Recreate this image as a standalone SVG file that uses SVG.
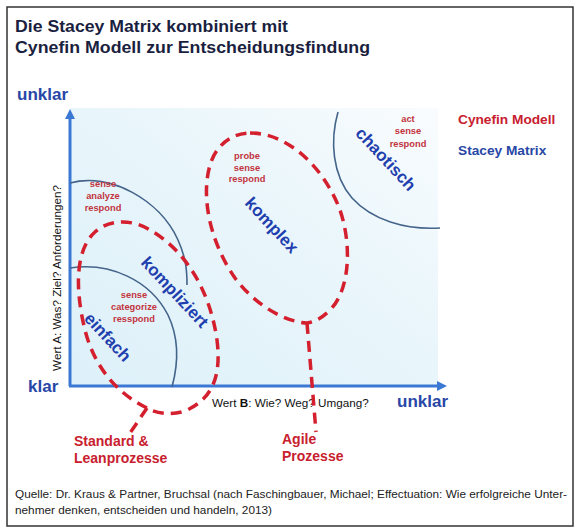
<svg xmlns="http://www.w3.org/2000/svg" width="580" height="532" viewBox="0 0 580 532">
  <defs>
    <linearGradient id="bg" x1="0" y1="1" x2="1" y2="0">
      <stop offset="0" stop-color="#ddf0f9"/>
      <stop offset="0.6" stop-color="#eaf6fb"/>
      <stop offset="1" stop-color="#f9fcfe"/>
    </linearGradient>
    <marker id="arr" markerWidth="10" markerHeight="10" refX="3" refY="5" orient="auto" markerUnits="userSpaceOnUse" viewBox="0 0 10 10">
      <path d="M0,0 L10,5 L0,10 Z" fill="#3a78d4"/>
    </marker>
    <style>
      .axis { stroke: #3a78d4; stroke-width: 3; fill: none; }
      .stacey { stroke: #44648a; stroke-width: 1.6; fill: none; }
      .cyn { stroke: #d41f2e; stroke-width: 3.5; fill: none; stroke-dasharray: 11 7; }
      .title { font-family: "Liberation Sans", Arial, sans-serif; font-weight: bold; font-size: 17px; fill: #1b1f3f; }
      .axlab { font-family: "Liberation Sans", Arial, sans-serif; font-weight: bold; font-size: 17px; fill: #2847a6; }
      .region { font-family: "Liberation Sans", Arial, sans-serif; font-weight: bold; font-size: 17px; fill: #1f3fae; text-anchor: middle; }
      .small { font-family: "Liberation Sans", Arial, sans-serif; font-weight: bold; font-size: 9.3px; fill: #c2343e; text-anchor: middle; }
      .redlab { font-family: "Liberation Sans", Arial, sans-serif; font-weight: bold; font-size: 14px; fill: #c8202e; }
      .legend { font-family: "Liberation Sans", Arial, sans-serif; font-weight: bold; font-size: 13.7px; }
      .axdesc { font-family: "Liberation Sans", Arial, sans-serif; font-size: 11.7px; fill: #111; }
      .foot { font-family: "Liberation Sans", Arial, sans-serif; font-size: 11.5px; fill: #222; }
    </style>
  </defs>

  <rect x="0" y="0" width="580" height="532" fill="#ffffff"/>
  <rect x="7" y="7" width="566" height="519" fill="#ffffff" stroke="#333" stroke-width="1.5"/>

  <g id="title">
    <text class="title" x="15" y="32" textLength="273" lengthAdjust="spacingAndGlyphs">Die Stacey Matrix kombiniert mit</text>
    <text class="title" x="15" y="53" textLength="355" lengthAdjust="spacingAndGlyphs">Cynefin Modell zur Entscheidungsfindung</text>
  </g>

  <rect id="plot-area" x="70" y="108" width="368" height="278" fill="url(#bg)"/>

  <g id="legend">
    <text class="legend" x="458" y="124" fill="#c8202e">Cynefin Modell</text>
    <text class="legend" x="458" y="155" fill="#2847a6">Stacey Matrix</text>
  </g>

  <g id="axes">
    <line class="axis" x1="70" y1="386" x2="70" y2="116" marker-end="url(#arr)"/>
    <line class="axis" x1="69" y1="386" x2="440" y2="386" marker-end="url(#arr)"/>
    <text class="axlab" x="17" y="100">unklar</text>
    <text class="axlab" x="28" y="392">klar</text>
    <text class="axlab" x="397" y="407">unklar</text>
    <text class="axdesc" transform="translate(61,278) rotate(-90)" text-anchor="middle">Wert A: Was? Ziel? Anforderungen?</text>
    <text class="axdesc" x="212" y="407">Wert <tspan font-weight="bold">B</tspan>: Wie? Weg? Umgang?</text>
  </g>

  <g id="einfach">
    <path class="stacey" d="M70,268 C110,262 150,280 168,315 C180,340 178,365 172,387"/>
    <text class="small" x="134" y="298">sense</text>
    <text class="small" x="134" y="310">categorize</text>
    <text class="small" x="134" y="322">resspond</text>
    <text class="region" transform="translate(108,337) rotate(47)" y="6">einfach</text>
  </g>

  <g id="kompliziert">
    <path class="stacey" d="M70,183 C110,172 160,200 178,240 C186,258 187,270 187,285"/>
    <text class="small" x="103" y="187">sense</text>
    <text class="small" x="103" y="199">analyze</text>
    <text class="small" x="103" y="211">respond</text>
    <text class="region" transform="translate(175,292) rotate(47)" y="6">kompliziert</text>
  </g>

  <g id="komplex">
    <text class="small" x="247" y="159">probe</text>
    <text class="small" x="247" y="171">sense</text>
    <text class="small" x="247" y="182">respond</text>
    <text class="region" transform="translate(272,225) rotate(47)" y="6">komplex</text>
  </g>

  <g id="chaotisch">
    <path class="stacey" d="M338,112 C330,140 332,175 352,198 C372,220 405,230 440,228"/>
    <text class="small" x="408" y="122">act</text>
    <text class="small" x="408" y="134">sense</text>
    <text class="small" x="408" y="147">respond</text>
    <text class="region" transform="translate(386,159) rotate(47)" y="6">chaotisch</text>
  </g>

  <g id="standard-lean">
    <path class="cyn" d="M147,408 C120,395 95,370 85,330 C75,290 75,250 95,232 C110,218 135,220 150,230 C185,250 210,290 217,340 C222,380 210,400 185,411 C170,416 155,413 147,408 Z"/>
    <text class="redlab" x="74" y="446">Standard &amp;</text>
    <text class="redlab" x="74" y="463">Leanprozesse</text>
  </g>

  <g id="agile">
    <path class="cyn" d="M250,133 C290,133 325,170 340,210 C352,245 350,290 330,310 C320,320 313,322 307,323 C285,322 255,305 235,278 C212,245 200,200 210,165 C216,145 232,133 250,133 Z"/>
    <text class="redlab" x="282" y="444">Agile</text>
    <text class="redlab" x="282" y="461">Prozesse</text>
  </g>

  <g id="connectors">
    <path class="cyn" d="M147,408 L128,436"/>
    <path class="cyn" d="M307,323 L316,432"/>
  </g>

  <g id="source">
    <text class="foot" x="15" y="498" textLength="552" lengthAdjust="spacingAndGlyphs">Quelle: Dr. Kraus &amp; Partner, Bruchsal (nach Faschingbauer, Michael; Effectuation: Wie erfolgreiche Unter-</text>
    <text class="foot" x="15" y="514" textLength="257" lengthAdjust="spacingAndGlyphs">nehmer denken, entscheiden und handeln, 2013)</text>
  </g>
</svg>
